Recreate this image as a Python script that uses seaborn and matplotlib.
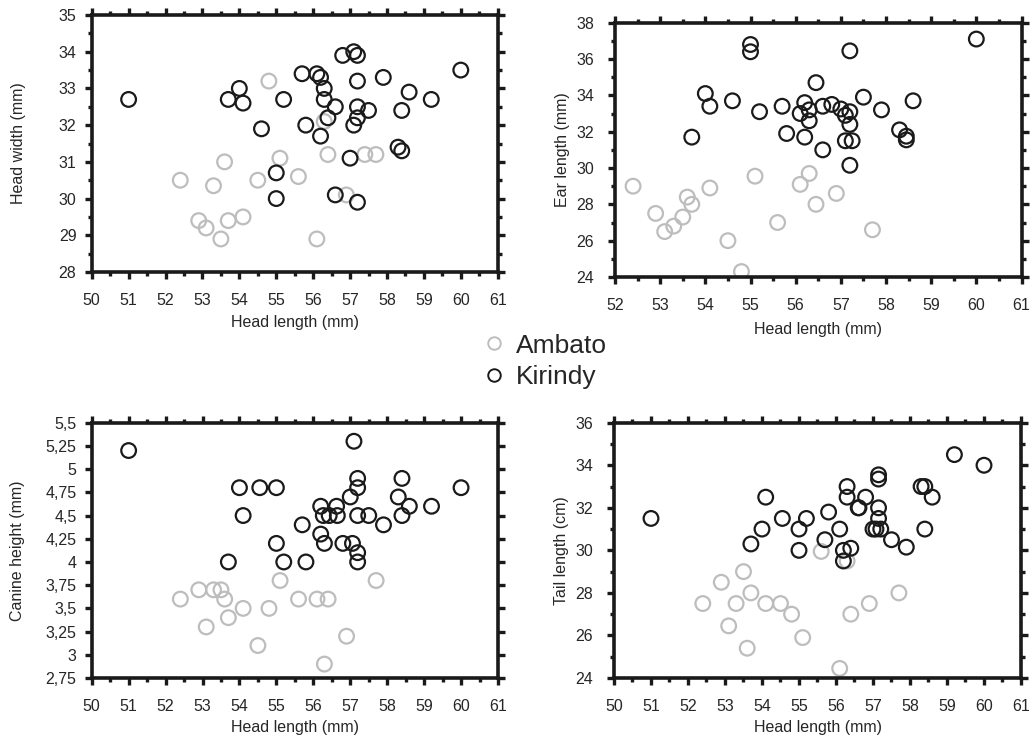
import numpy as np
import pandas as pd
import matplotlib
matplotlib.use("Agg")
import matplotlib.pyplot as plt
from matplotlib.lines import Line2D
from matplotlib.ticker import MultipleLocator, FixedLocator, FixedFormatter
import seaborn as sns

# ---------------- data ----------------
groups = ["Ambato", "Kirindy"]

# Panel A: head width vs head length
a_amb_x = [54.8, 56.3, 53.6, 55.1, 56.4, 57.4, 57.7, 52.4, 53.3, 54.5, 55.6, 56.9, 52.9, 53.1, 53.7, 54.1, 53.5, 56.1]
a_amb_y = [33.2, 32.1, 31.0, 31.1, 31.2, 31.2, 31.2, 30.5, 30.35, 30.5, 30.6, 30.1, 29.4, 29.2, 29.4, 29.5, 28.9, 28.9]
a_kir_x = [51.0, 54.0, 53.7, 54.1, 55.2, 54.6, 55.0, 55.0, 55.7, 56.1, 56.2, 56.3, 56.3, 56.6, 56.4, 55.8, 56.2, 56.8,
           57.1, 57.2, 57.2, 57.2, 57.5, 57.2, 57.1, 57.0, 56.6, 57.2, 57.9, 58.6, 58.4, 58.3, 58.4, 59.2, 60.0]
a_kir_y = [32.7, 33.0, 32.7, 32.6, 32.7, 31.9, 30.7, 30.0, 33.4, 33.4, 33.3, 33.0, 32.7, 32.5, 32.2, 32.0, 31.7, 33.9,
           34.0, 33.9, 33.2, 32.5, 32.4, 32.2, 32.0, 31.1, 30.1, 29.9, 33.3, 32.9, 32.4, 31.4, 31.3, 32.7, 33.5]

# Panel B: ear length vs head length
b_amb_x = [52.4, 52.9, 53.1, 53.3, 53.5, 53.6, 53.7, 54.1, 54.5, 54.8, 55.1, 55.6, 56.1, 56.3, 56.45, 56.9, 57.7]
b_amb_y = [29.0, 27.5, 26.5, 26.8, 27.3, 28.4, 28.0, 28.9, 26.0, 24.3, 29.55, 27.0, 29.1, 29.7, 28.0, 28.6, 26.6]
b_kir_x = [55.0, 55.0, 57.2, 60.0, 56.45, 54.0, 54.1, 54.6, 55.2, 55.7, 56.1, 56.2, 56.3, 56.3, 56.6, 56.8, 57.0,
           57.1, 57.2, 57.2, 55.8, 56.2, 57.1, 57.25, 56.6, 57.2, 53.7, 57.5, 57.9, 58.6, 58.3, 58.45, 58.45]
b_kir_y = [36.8, 36.4, 36.45, 37.1, 34.7, 34.1, 33.4, 33.7, 33.1, 33.4, 33.0, 33.6, 33.2, 32.6, 33.4, 33.5, 33.25,
           32.9, 33.1, 32.4, 31.9, 31.7, 31.5, 31.5, 31.0, 30.15, 31.7, 33.9, 33.2, 33.7, 32.1, 31.75, 31.55]

# Panel C: canine height vs head length
c_amb_x = [52.4, 52.9, 53.3, 53.5, 53.6, 53.7, 53.1, 54.1, 54.5, 54.8, 55.1, 55.6, 56.1, 56.4, 56.3, 56.9, 57.7]
c_amb_y = [3.6, 3.7, 3.7, 3.7, 3.6, 3.4, 3.3, 3.5, 3.1, 3.5, 3.8, 3.6, 3.6, 3.6, 2.9, 3.2, 3.8]
c_kir_x = [51.0, 57.1, 54.0, 54.55, 55.0, 54.1, 53.7, 55.0, 55.2, 55.8, 55.7, 56.2, 56.2, 56.3, 56.27, 56.43, 56.63,
           56.65, 57.0, 57.2, 57.2, 57.2, 57.5, 56.8, 57.06, 57.2, 57.2, 57.9, 58.3, 58.4, 58.4, 58.6, 59.2, 60.0]
c_kir_y = [5.2, 5.3, 4.8, 4.8, 4.8, 4.5, 4.0, 4.2, 4.0, 4.0, 4.4, 4.6, 4.3, 4.2, 4.5, 4.5, 4.6,
           4.5, 4.7, 4.9, 4.8, 4.5, 4.5, 4.2, 4.2, 4.1, 4.0, 4.4, 4.7, 4.9, 4.5, 4.6, 4.6, 4.8]
c_ytick_values = [2.75, 3.0, 3.25, 3.5, 3.75, 4.0, 4.25, 4.5, 4.75, 5.0, 5.25, 5.5]
c_ytick_labels = ["2,75", "3", "3,25", "3,5", "3,75", "4", "4,25", "4,5", "4,75", "5", "5,25", "5,5"]

# Panel D: tail length vs head length
d_amb_x = [52.4, 52.9, 53.1, 53.3, 53.5, 53.7, 53.6, 54.1, 54.5, 54.8, 55.1, 55.6, 56.3, 56.1, 56.4, 56.9, 57.7]
d_amb_y = [27.5, 28.5, 26.45, 27.5, 29.0, 28.0, 25.4, 27.5, 27.5, 27.0, 25.9, 29.95, 29.5, 24.45, 27.0, 27.5, 28.0]
d_kir_x = [51.0, 53.7, 54.0, 54.1, 54.55, 55.0, 55.0, 55.2, 55.7, 55.8, 56.1, 56.2, 56.2, 56.4, 56.3, 56.3, 56.6,
           56.62, 56.8, 57.15, 57.15, 57.15, 57.15, 57.0, 57.08, 57.21, 57.5, 57.9, 58.3, 58.4, 58.6, 58.4, 59.2, 60.0]
d_kir_y = [31.5, 30.3, 31.0, 32.5, 31.5, 31.0, 30.0, 31.5, 30.5, 31.8, 31.0, 30.0, 29.5, 30.1, 33.0, 32.5, 32.0,
           32.0, 32.5, 33.55, 33.35, 32.0, 31.5, 31.0, 31.0, 31.0, 30.5, 30.15, 33.0, 33.0, 32.5, 31.0, 34.5, 34.0]

x_label = "Head length (mm)"
y_labels = ["Head width (mm)", "Ear length (mm)", "Canine height (mm)", "Tail length (cm)"]

def make_df(ax_, ay_, kx_, ky_):
    return pd.DataFrame({
        "x": ax_ + kx_,
        "y": ay_ + ky_,
        "group": ["Ambato"] * len(ax_) + ["Kirindy"] * len(kx_),
    })

frames = [
    make_df(a_amb_x, a_amb_y, a_kir_x, a_kir_y),
    make_df(b_amb_x, b_amb_y, b_kir_x, b_kir_y),
    make_df(c_amb_x, c_amb_y, c_kir_x, c_kir_y),
    make_df(d_amb_x, d_amb_y, d_kir_x, d_kir_y),
]

# ---------------- style ----------------
sns.set_style("ticks")
plt.rcParams["font.family"] = ["Liberation Sans", "DejaVu Sans"]
colors = {"Ambato": "#bdbdbd", "Kirindy": "#1a1a1a"}

W, H = 1030, 737
fig = plt.figure(figsize=(W / 100, H / 100), dpi=100)

def rect(l, r, t, b):
    return [l / W, 1 - b / H, (r - l) / W, (b - t) / H]

rects = [
    rect(91.7, 497.7, 15, 272),
    rect(615, 1021.5, 22.7, 277),
    rect(91.7, 498, 422.7, 678),
    rect(614, 1021, 422.7, 678),
]
xlims = [(50, 61), (52, 61), (50, 61), (50, 61)]
ylims = [(28, 35), (24, 38), (2.75, 5.5), (24, 36)]
ymaj = [1, 2, None, 2]
ymin = [0.5, 1, None, 1]
ypads = [6, 10, 6, 10]
ylab_x = [-0.1815, -0.130, -0.1815, -0.128]
xlab_y = [-0.197, -0.205, -0.193, -0.193]

for i, df in enumerate(frames):
    ax = fig.add_axes(rects[i])
    for g in groups:
        sub = df[df["group"] == g]
        sns.scatterplot(data=sub, x="x", y="y", ax=ax, color=colors[g],
                        facecolor="none", edgecolor=colors[g], linewidth=1.6,
                        s=112, legend=False, zorder=3 if g == "Kirindy" else 2)
    ax.set_xlim(*xlims[i])
    ax.set_ylim(*ylims[i])
    ax.xaxis.set_major_locator(MultipleLocator(1))
    ax.xaxis.set_minor_locator(MultipleLocator(0.5))
    if ymaj[i] is None:
        ax.yaxis.set_major_locator(FixedLocator(c_ytick_values))
        ax.yaxis.set_major_formatter(FixedFormatter(c_ytick_labels))
    else:
        ax.yaxis.set_major_locator(MultipleLocator(ymaj[i]))
        ax.yaxis.set_minor_locator(MultipleLocator(ymin[i]))
    for sp in ax.spines.values():
        sp.set_visible(True)
        sp.set_linewidth(2.6)
        sp.set_color("#1a1a1a")
    ax.tick_params(which="both", direction="out", top=True, right=True,
                   labeltop=False, labelright=False, width=2.4, color="#1a1a1a")
    ax.tick_params(which="major", length=5)
    ax.tick_params(which="minor", length=3)
    ax.tick_params(axis="x", which="major", labelsize=11.5, pad=10)
    ax.tick_params(axis="y", which="major", labelsize=11.5, pad=ypads[i])
    ax.set_xlabel(x_label, fontsize=11.5)
    ax.set_ylabel(y_labels[i], fontsize=11.5)
    ax.xaxis.set_label_coords(0.5, xlab_y[i])
    ax.xaxis.label.set_va("center")
    ax.yaxis.set_label_coords(ylab_x[i], 0.5)
    ax.yaxis.label.set_va("center")
    ax.set_facecolor("white")

handles = [Line2D([0], [0], marker="o", linestyle="none", markersize=9,
                  markerfacecolor="none", markeredgecolor=colors[g], markeredgewidth=1.4)
           for g in groups]
fig.legend(handles, groups, loc="center", bbox_to_anchor=(0.530, 0.5095),
           frameon=False, fontsize=19, handlelength=0.7, handletextpad=0.45,
           labelspacing=0.3, borderpad=0)

fig.savefig("out.png", dpi=100, facecolor="white")
